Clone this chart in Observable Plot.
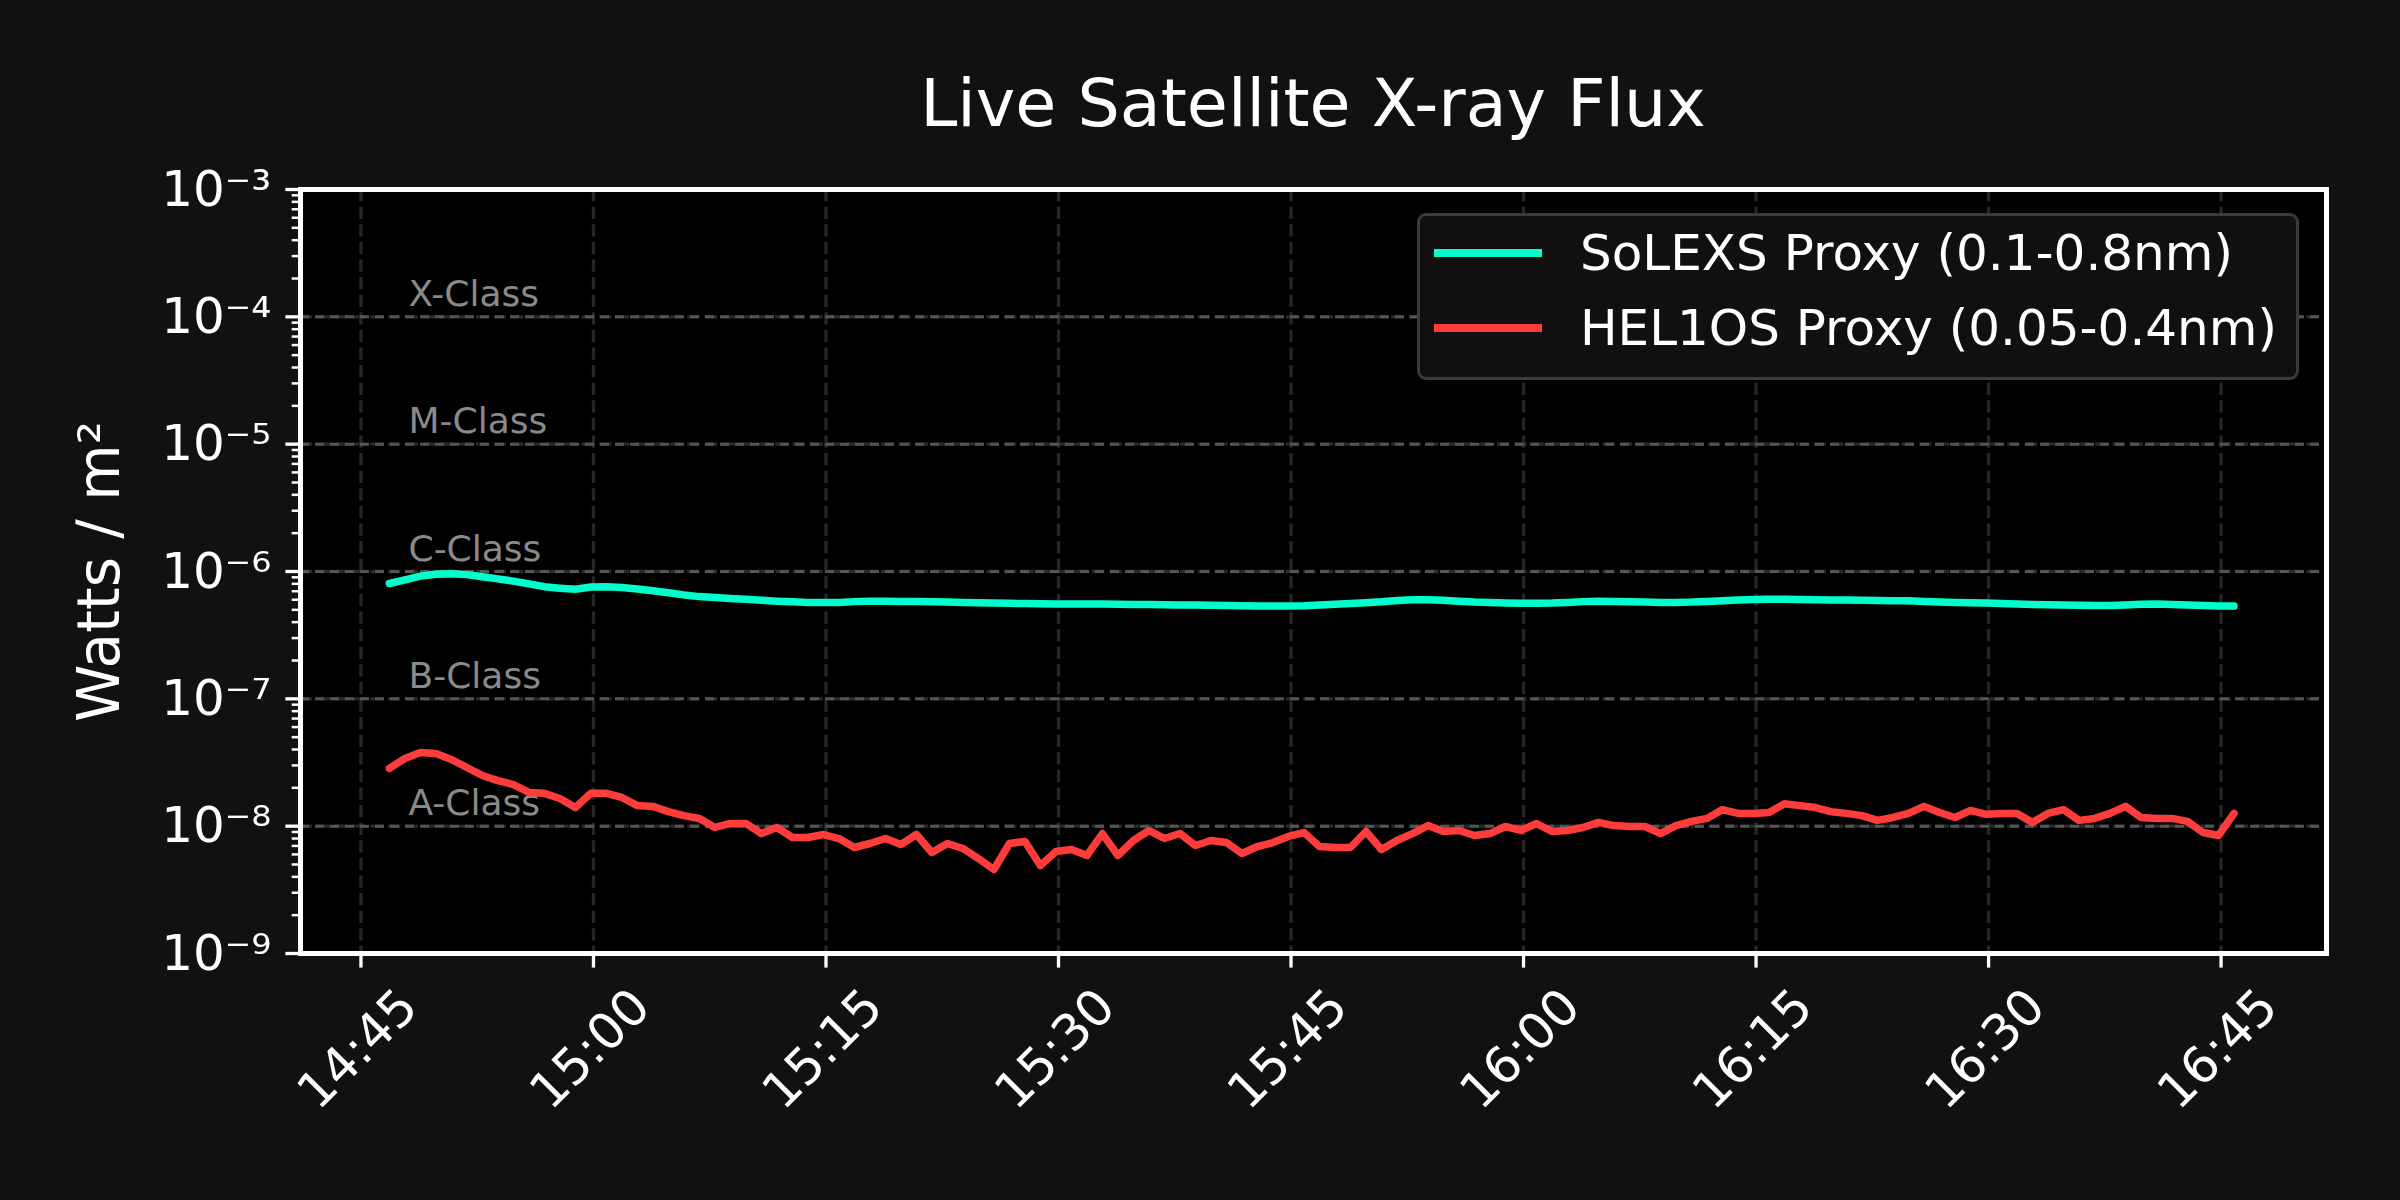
<!DOCTYPE html>
<html>
<head>
<meta charset="utf-8">
<script src="https://cdn.jsdelivr.net/npm/d3@7"></script>
<script src="https://cdn.jsdelivr.net/npm/@observablehq/plot@0.6"></script>
<style>
  html, body { margin: 0; padding: 0; background: #111111; }
  #wrap { position: relative; width: 2400px; height: 1200px; background: #111111; font-family: "DejaVu Sans", sans-serif; overflow: hidden; }
  #head { position: relative; width: 2400px; height: 150px; }
  #title { position: absolute; left: 226px; width: 2174px; top: 70px; text-align: center; color: #ffffff; font-size: 66.7px; line-height: 66.7px; white-space: nowrap; }
  #chart svg { display: block; }
  #legend { position: absolute; left: 1417px; top: 213px; width: 876px; height: 161px; background: #101010; border: 3px solid #3a3a3a; border-radius: 9px; }
  .sw { position: absolute; left: 14px; width: 108px; height: 8px; }
  .lt { position: absolute; left: 160px; color: #ffffff; font-size: 50px; line-height: 50px; white-space: nowrap; }
</style>
</head>
<body>
<div id="wrap">
  <div id="head"><div id="title"></div></div>
  <div id="chart"></div>
  <div id="legend"></div>
</div>
<script>
// ---- data ----
const titleText = "Live Satellite X-ray Flux";
const yLabelText = "Watts / m²";
const seriesNames = ["SoLEXS Proxy (0.1-0.8nm)", "HEL1OS Proxy (0.05-0.4nm)"];
const seriesColors = ["#00ffcc", "#ff3c3c"];

// sample times: one reading per minute starting 14:46:50
const startTime = Date.UTC(2024, 0, 1, 14, 46, 50);
const stepMs = 60000;

const solexs = [
  8.05e-7, 8.6e-7, 9.2e-7, 9.5e-7, 9.6e-7, 9.45e-7, 9.1e-7, 8.75e-7, 8.4e-7, 8.0e-7,
  7.6e-7, 7.4e-7, 7.25e-7, 7.55e-7, 7.6e-7, 7.5e-7, 7.3e-7, 7.05e-7, 6.8e-7, 6.55e-7,
  6.35e-7, 6.25e-7, 6.15e-7, 6.05e-7, 5.95e-7, 5.85e-7, 5.78e-7, 5.72e-7, 5.7e-7, 5.72e-7,
  5.8e-7, 5.85e-7, 5.85e-7, 5.82e-7, 5.8e-7, 5.78e-7, 5.75e-7, 5.72e-7, 5.68e-7, 5.65e-7,
  5.62e-7, 5.6e-7, 5.58e-7, 5.55e-7, 5.55e-7, 5.56e-7, 5.55e-7, 5.52e-7, 5.5e-7, 5.5e-7,
  5.48e-7, 5.45e-7, 5.45e-7, 5.42e-7, 5.4e-7, 5.38e-7, 5.36e-7, 5.35e-7, 5.35e-7, 5.38e-7,
  5.45e-7, 5.52e-7, 5.6e-7, 5.68e-7, 5.78e-7, 5.92e-7, 6.0e-7, 6.0e-7, 5.95e-7, 5.85e-7,
  5.75e-7, 5.7e-7, 5.65e-7, 5.62e-7, 5.62e-7, 5.65e-7, 5.72e-7, 5.8e-7, 5.85e-7, 5.82e-7,
  5.78e-7, 5.75e-7, 5.72e-7, 5.72e-7, 5.75e-7, 5.82e-7, 5.9e-7, 5.98e-7, 6.02e-7, 6.05e-7,
  6.05e-7, 6.03e-7, 6.0e-7, 5.98e-7, 5.96e-7, 5.95e-7, 5.93e-7, 5.9e-7, 5.88e-7, 5.82e-7,
  5.76e-7, 5.72e-7, 5.68e-7, 5.65e-7, 5.6e-7, 5.55e-7, 5.5e-7, 5.47e-7, 5.45e-7, 5.42e-7,
  5.4e-7, 5.4e-7, 5.45e-7, 5.52e-7, 5.55e-7, 5.5e-7, 5.45e-7, 5.4e-7, 5.37e-7, 5.35e-7
];

const helios = [
  2.84e-8, 3.40e-8, 3.79e-8, 3.72e-8, 3.34e-8, 2.89e-8, 2.50e-8, 2.28e-8, 2.12e-8, 1.84e-8,
  1.81e-8, 1.65e-8, 1.40e-8, 1.81e-8, 1.81e-8, 1.68e-8, 1.45e-8, 1.43e-8, 1.30e-8, 1.21e-8,
  1.15e-8, 9.77e-9, 1.05e-8, 1.05e-8, 8.75e-9, 9.77e-9, 8.15e-9, 8.15e-9, 8.60e-9, 8.00e-9,
  6.80e-9, 7.31e-9, 8.00e-9, 7.18e-9, 8.60e-9, 6.21e-9, 7.31e-9, 6.68e-9, 5.57e-9, 4.57e-9,
  7.31e-9, 7.58e-9, 4.91e-9, 6.32e-9, 6.56e-9, 5.88e-9, 8.75e-9, 5.88e-9, 7.72e-9, 9.25e-9,
  8.00e-9, 8.75e-9, 7.05e-9, 7.72e-9, 7.44e-9, 6.10e-9, 6.92e-9, 7.44e-9, 8.30e-9, 8.91e-9,
  6.92e-9, 6.80e-9, 6.80e-9, 9.08e-9, 6.56e-9, 7.72e-9, 8.75e-9, 1.01e-8, 9.08e-9, 9.25e-9,
  8.45e-9, 8.75e-9, 9.94e-9, 9.25e-9, 1.05e-8, 9.08e-9, 9.25e-9, 9.77e-9, 1.07e-8, 1.01e-8,
  9.94e-9, 9.94e-9, 8.75e-9, 1.01e-8, 1.09e-8, 1.15e-8, 1.35e-8, 1.26e-8, 1.26e-8, 1.28e-8,
  1.50e-8, 1.45e-8, 1.40e-8, 1.30e-8, 1.26e-8, 1.21e-8, 1.11e-8, 1.17e-8, 1.26e-8, 1.43e-8,
  1.28e-8, 1.17e-8, 1.33e-8, 1.24e-8, 1.26e-8, 1.26e-8, 1.07e-8, 1.26e-8, 1.35e-8, 1.11e-8,
  1.15e-8, 1.26e-8, 1.43e-8, 1.17e-8, 1.15e-8, 1.15e-8, 1.09e-8, 8.91e-9, 8.45e-9, 1.26e-8
];

const classNames = ["X-Class", "M-Class", "C-Class", "B-Class", "A-Class"];
const classThresholds = [1e-4, 1e-5, 1e-6, 1e-7, 1e-8];
const classLabelTime = new Date(Date.UTC(2024, 0, 1, 14, 48, 4));

const xTicks = ["14:45", "15:00", "15:15", "15:30", "15:45", "16:00", "16:15", "16:30", "16:45"]
  .map(s => { const [h, m] = s.split(":").map(Number); return new Date(Date.UTC(2024, 0, 1, h, m)); });
const xDomain = [new Date(Date.UTC(2024, 0, 1, 14, 41, 6)), new Date(Date.UTC(2024, 0, 1, 16, 51, 48))];
const yDomain = [1e-9, 1e-3];
const yMajorTicks = [1e-9, 1e-8, 1e-7, 1e-6, 1e-5, 1e-4, 1e-3];
const yMinorTicks = [];
for (let e = -9; e < -3; e++) for (let m = 2; m <= 9; m++) yMinorTicks.push(m * Math.pow(10, e));

// ---- build tables ----
const rows = [];
solexs.forEach((v, i) => rows.push({series: seriesNames[0], time: new Date(startTime + i * stepMs), value: v}));
helios.forEach((v, i) => rows.push({series: seriesNames[1], time: new Date(startTime + i * stepMs), value: v}));
const classes = classNames.map((n, i) => ({name: n, value: classThresholds[i], time: classLabelTime}));

const sup = {"-": "⁻", "0": "⁰", "1": "¹", "2": "²", "3": "³", "4": "⁴", "5": "⁵", "6": "⁶", "7": "⁷", "8": "⁸", "9": "⁹"};
const fmtPow = d => "10" + String(Math.round(Math.log10(d))).split("").map(c => sup[c]).join("");
const fmtTime = d3.utcFormat("%H:%M");

document.getElementById("title").textContent = titleText;

const chart = Plot.plot({
  width: 2400,
  height: 1050,
  marginTop: 39,
  marginBottom: 247,
  marginLeft: 300,
  marginRight: 74,
  style: {background: "transparent", color: "white", fontFamily: "DejaVu Sans, sans-serif", overflow: "visible"},
  x: {type: "utc", domain: xDomain},
  y: {type: "log", domain: yDomain},
  color: {domain: seriesNames, range: seriesColors},
  marks: [
    Plot.frame({fill: "#000000", stroke: "none"}),
    Plot.gridX(xTicks, {stroke: "#262626", strokeOpacity: 1, strokeWidth: 3.3, strokeDasharray: "12.3,5.3"}),
    Plot.gridY(yMajorTicks, {stroke: "#2a2a2a", strokeOpacity: 1, strokeWidth: 3.3, strokeDasharray: "12.3,5.3"}),
    Plot.ruleY(classThresholds, {stroke: "#555555", strokeWidth: 3, strokeDasharray: "9,6"}),
    Plot.text(classes, {x: "time", y: "value", text: "name", dy: -11, textAnchor: "start", lineAnchor: "bottom", fill: "#8a8a8a", fontSize: 36}),
    Plot.line(rows, {x: "time", y: "value", z: "series", stroke: "series", strokeWidth: 7.5}),
    Plot.frame({stroke: "#ffffff", strokeWidth: 5}),
    Plot.axisX(xTicks, {fill: "none", stroke: "#ffffff", tickSize: 14.6, strokeWidth: 3.3, label: null}),
    Plot.text(xTicks, {x: d => d, frameAnchor: "bottom", dy: 96, dx: -3, rotate: -45, text: d => fmtTime(d), textAnchor: "middle", lineAnchor: "middle", fontSize: 50, fill: "#ffffff"}),
    Plot.axisY(yMinorTicks, {fill: "none", stroke: "#ffffff", tickSize: 8.3, strokeWidth: 2.5, label: null}),
    Plot.axisY(yMajorTicks, {stroke: "#ffffff", fill: "#ffffff", tickSize: 14.6, tickPadding: 14.6, strokeWidth: 3.3, fontSize: 50, tickFormat: fmtPow, label: null}),
    Plot.text([yLabelText], {text: d => d, frameAnchor: "left", dx: -200, rotate: -90, textAnchor: "middle", lineAnchor: "middle", fontSize: 58, fill: "#ffffff"})
  ]
});
document.getElementById("chart").appendChild(chart);

// legend
const legend = document.getElementById("legend");
const rowCenters = [37, 112];
seriesNames.forEach((name, i) => {
  const sw = document.createElement("div");
  sw.className = "sw";
  sw.style.top = (rowCenters[i] - 4) + "px";
  sw.style.background = seriesColors[i];
  legend.appendChild(sw);
  const t = document.createElement("div");
  t.className = "lt";
  t.style.top = (rowCenters[i] - 25) + "px";
  t.textContent = name;
  legend.appendChild(t);
});
</script>
</body>
</html>
